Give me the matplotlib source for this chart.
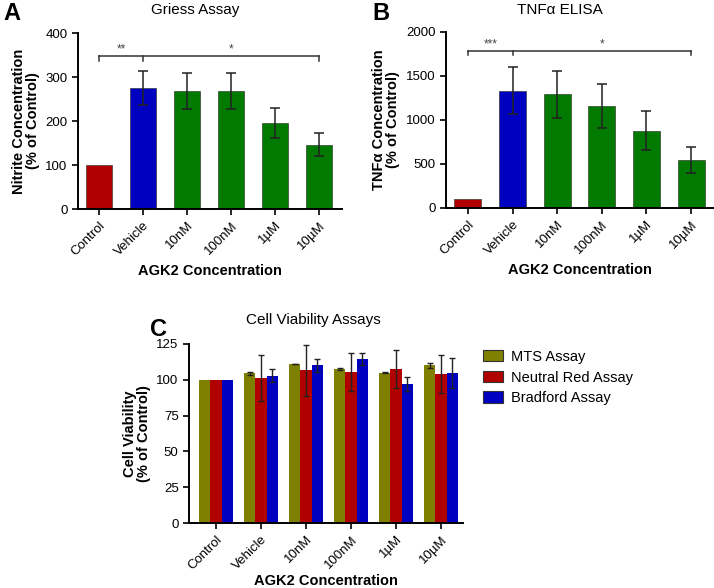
import numpy as np
import matplotlib
matplotlib.use("Agg")
import matplotlib.pyplot as plt

plt.rcParams['font.family'] = ['Liberation Sans', 'DejaVu Sans']

# Данные
groups = ['Control', 'Vehicle', '10nM', '100nM', '1µM', '10µM']

griess = [100, 275, 268, 268, 196, 146]
griess_err = [0, 38, 40, 40, 34, 26]

tnf = [105, 1335, 1290, 1160, 880, 545]
tnf_err = [0, 265, 270, 250, 225, 150]

mts = [100, 104.5, 111, 107.5, 105, 110]
mts_err = [0, 1, 0.3, 0.6, 0.5, 2]
neutral = [100, 101, 106.5, 105.5, 107.5, 104]
neutral_err = [0, 16, 17.5, 13.5, 13.5, 13.5]
bradford = [100, 103, 110, 114.5, 97, 105]
bradford_err = [0, 4.5, 4.5, 4.5, 5, 10.5]

red = '#b00000'
blue = '#0000c0'
green = '#007a00'
olive = '#808000'
bar_colors = [red, blue, green, green, green, green]

W, H = 714, 588
fig = plt.figure(figsize=(W / 100, H / 100), dpi=100)


def px_axes(l, r, top, bottom):
    return fig.add_axes([l / W, 1 - bottom / H, (r - l) / W, (bottom - top) / H])


def style(ax, pad=4):
    for s in ['top', 'right']:
        ax.spines[s].set_visible(False)
    for s in ['left', 'bottom']:
        ax.spines[s].set_linewidth(1.4)
    ax.tick_params(axis='both', direction='out', width=1.2, length=4, labelsize=9.5)
    ax.set_xticks(range(len(groups)))
    ax.set_xticklabels(groups, rotation=45, ha='right', rotation_mode='anchor')
    ax.set_xlabel('AGK2 Concentration', fontsize=10.5, fontweight='bold', labelpad=pad)


def bracket(ax, y, drop, stars_left, stars_right):
    ax.plot([0, 5], [y, y], color='#333333', lw=1.1, clip_on=False)
    for xx in [0, 1, 5]:
        ax.plot([xx, xx], [y, y - drop], color='#333333', lw=1.1, clip_on=False)
    ax.text(0.5, y + drop * 0.15, stars_left, ha='center', va='bottom', fontsize=8.5, color='#444444')
    ax.text(3, y + drop * 0.15, stars_right, ha='center', va='bottom', fontsize=8.5, color='#444444')


# Панель A
ax1 = px_axes(78, 342, 33, 209)
x = np.arange(len(groups))
ax1.bar(x, griess, width=0.6, color=bar_colors, edgecolor='#222222', linewidth=0.4)
ax1.errorbar(x[1:], griess[1:], yerr=griess_err[1:], fmt='none', ecolor='#222222',
             elinewidth=1.1, capsize=3.5, capthick=1.1)
ax1.set_xlim(-0.48, 5.52)
ax1.set_ylim(0, 400)
ax1.set_yticks([0, 100, 200, 300, 400])
style(ax1)
ax1.set_ylabel('Nitrite Concentration\n(% of Control)', fontsize=10.5, fontweight='bold',
               labelpad=4, linespacing=1.0)
bracket(ax1, 348, 12, '**', '*')
fig.text(195 / W, 1 - 10 / H, 'Griess Assay', ha='center', va='center', fontsize=11)
fig.text(3 / W, 1 - 14 / H, 'A', ha='left', va='center', fontsize=17, fontweight='bold')

# Панель B
ax2 = px_axes(446, 713, 32, 208)
ax2.bar(x, tnf, width=0.6, color=bar_colors, edgecolor='#222222', linewidth=0.4)
ax2.errorbar(x[1:], tnf[1:], yerr=tnf_err[1:], fmt='none', ecolor='#222222',
             elinewidth=1.1, capsize=3.5, capthick=1.1)
ax2.set_xlim(-0.49, 5.49)
ax2.set_ylim(0, 2000)
ax2.set_yticks([0, 500, 1000, 1500, 2000])
style(ax2)
ax2.set_ylabel('TNFα Concentration\n(% of Control)', fontsize=10.5, fontweight='bold',
               labelpad=4, linespacing=1.0)
bracket(ax2, 1785, 50, '***', '*')
fig.text(560 / W, 1 - 10 / H, 'TNFα ELISA', ha='center', va='center', fontsize=11)
fig.text(372 / W, 1 - 14 / H, 'B', ha='left', va='center', fontsize=17, fontweight='bold')

# Панель C
ax3 = px_axes(189, 463, 344, 523)
bw = 0.25
series = [(mts, mts_err, olive, 'MTS Assay'),
          (neutral, neutral_err, red, 'Neutral Red Assay'),
          (bradford, bradford_err, blue, 'Bradford Assay')]
for i, (vals, errs, col, lab) in enumerate(series):
    pos = x + (i - 1) * bw
    ax3.bar(pos, vals, width=bw, color=col, edgecolor='none', label=lab)
    ax3.errorbar(pos[1:], vals[1:], yerr=errs[1:], fmt='none', ecolor='#222222',
                 elinewidth=1.0, capsize=2, capthick=1.0)
ax3.set_xlim(-0.6, 5.49)
ax3.set_ylim(0, 125)
ax3.set_yticks([0, 25, 50, 75, 100, 125])
style(ax3, pad=1)
ax3.set_ylabel('Cell Viability\n(% of Control)', fontsize=10.5, fontweight='bold',
               labelpad=4, linespacing=1.0)
leg = ax3.legend(loc='upper left', bbox_to_anchor=(1.025, 1.04), frameon=False, fontsize=10.5,
                 handlelength=1.4, handleheight=0.8, handletextpad=0.5, labelspacing=0.45)
for p in leg.get_patches():
    p.set_edgecolor('#333333')
    p.set_linewidth(0.8)
fig.text(313 / W, 1 - 320 / H, 'Cell Viability Assays', ha='center', va='center', fontsize=11)
fig.text(150 / W, 1 - 330 / H, 'C', ha='left', va='center', fontsize=17, fontweight='bold')

fig.savefig('out.png', dpi=100)
